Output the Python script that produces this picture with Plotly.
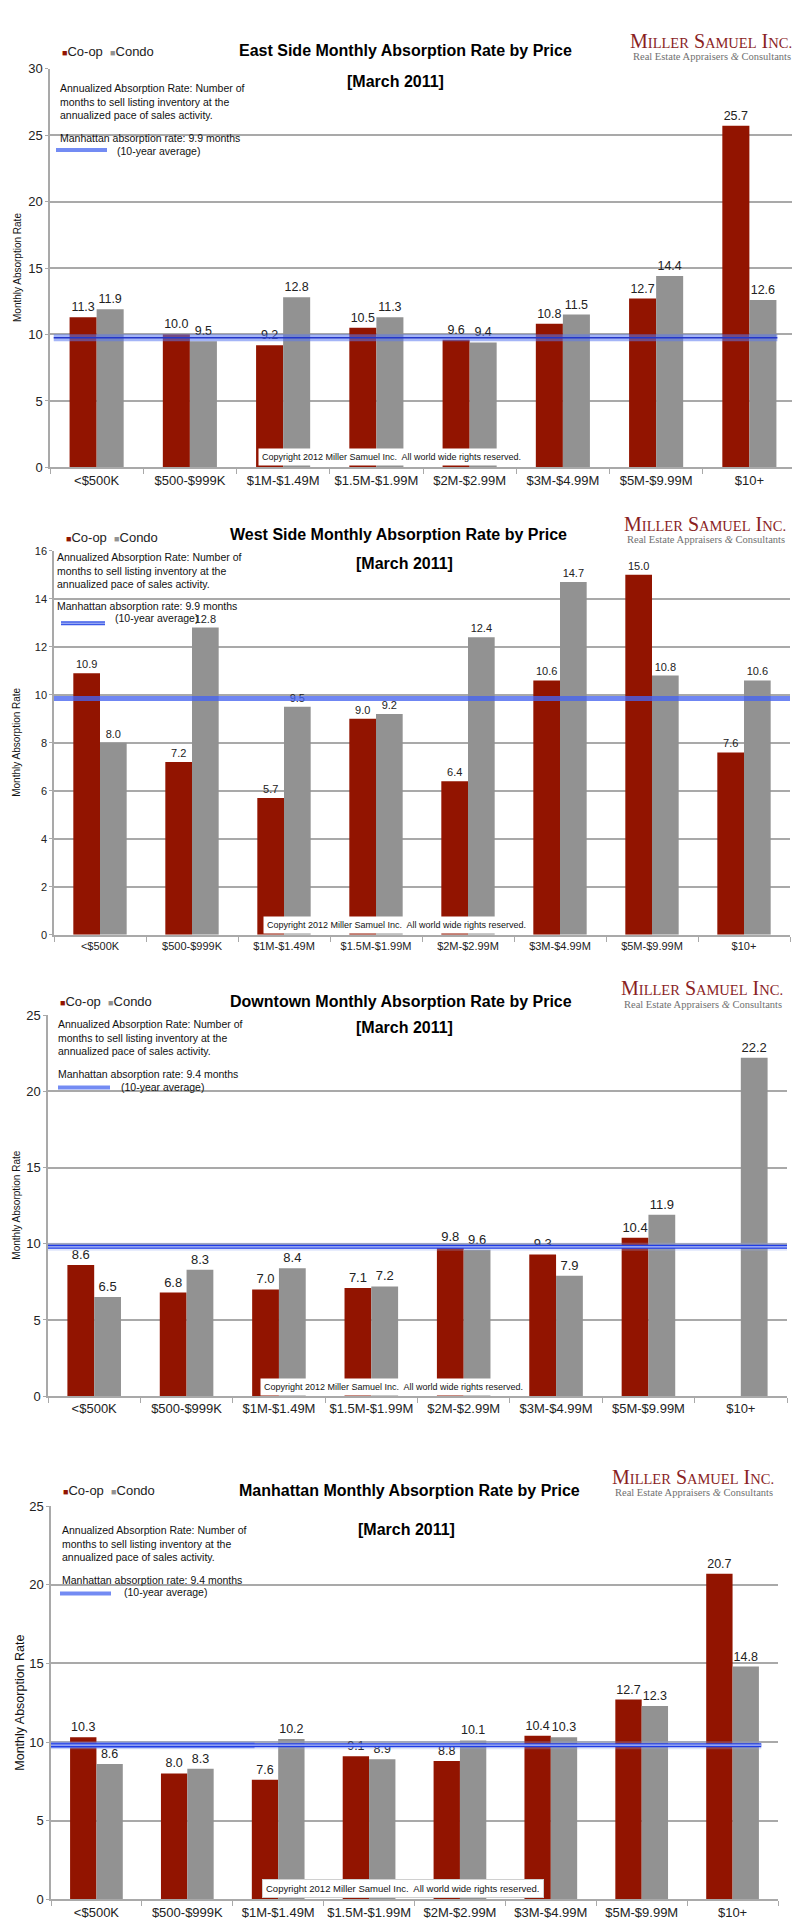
import plotly.graph_objects as go

# ---------------- data ----------------
categories = ["<$500K", "$500-$999K", "$1M-$1.49M", "$1.5M-$1.99M",
              "$2M-$2.99M", "$3M-$4.99M", "$5M-$9.99M", "$10+"]

east_coop = [11.3, 10.0, 9.2, 10.5, 9.6, 10.8, 12.7, 25.7]
east_condo = [11.9, 9.5, 12.8, 11.3, 9.4, 11.5, 14.4, 12.6]

west_coop = [10.9, 7.2, 5.7, 9.0, 6.4, 10.6, 15.0, 7.6]
west_condo = [8.0, 12.8, 9.5, 9.2, 12.4, 14.7, 10.8, 10.6]

downtown_coop = [8.6, 6.8, 7.0, 7.1, 9.8, 9.3, 10.4, None]
downtown_condo = [6.5, 8.3, 8.4, 7.2, 9.6, 7.9, 11.9, 22.2]

manhattan_coop = [10.3, 8.0, 7.6, 9.1, 8.8, 10.4, 12.7, 20.7]
manhattan_condo = [8.6, 8.3, 10.2, 8.9, 10.1, 10.3, 12.3, 14.8]

chart_titles = ["East Side Monthly Absorption Rate by Price",
                "West Side Monthly Absorption Rate by Price",
                "Downtown Monthly Absorption Rate by Price",
                "Manhattan Monthly Absorption Rate by Price"]
manhattan_rate_text = ["9.9", "9.9", "9.4", "9.4"]
avg_line_values = [9.75, 9.85, 9.8, 9.8]
y_max = [30, 16, 25, 25]
y_dtick = [5, 2, 5, 5]

series = [(east_coop, east_condo), (west_coop, west_condo),
          (downtown_coop, downtown_condo), (manhattan_coop, manhattan_condo)]

# ---------------- styling ----------------
W, H = 800, 1924
COOP = "#921400"
CONDO = "#929292"
GRID = "#a9a9a9"
FONT = "Liberation Sans, Arial, Helvetica, sans-serif"
SERIF = "Liberation Serif, Times New Roman, serif"


def px(x):
    return x / W


def py(y):
    return 1 - y / H


panels = [
    dict(L=42, R=788, top=54, bot=456, tick=13, lab=12.5, ytitle=10, ytx=9,
         legend=37, title=36, tx=397, logo=26, sub=42, march=67, mx=387,
         ann=(50, 66), manh=124, ten=(107, 137), mark=(48, 99, 136),
         copy=(383, 445, 9), line="band1"),
    dict(L=46, R=782, top=540, bot=927, tick=11, lab=11, ytitle=10, ytx=9,
         legend=527, title=524, tx=390, logo=513, sub=529, march=553, mx=396,
         ann=(47, 538), manh=596, ten=(105, 608), mark=(53, 97, 613),
         copy=(388, 917, 9), line="band2"),
    dict(L=40, R=779, top=1008, bot=1392, tick=13, lab=13, ytitle=10, ytx=9,
         legend=994, title=994, tx=393, logo=981, sub=997, march=1020, mx=396,
         ann=(48, 1009), manh=1067, ten=(111, 1080), mark=(50, 102, 1081),
         copy=(385, 1383, 9), line="double"),
    dict(L=43, R=770, top=1503, bot=1899, tick=13, lab=12.5, ytitle=12.5, ytx=12,
         legend=1487, title=1487, tx=402, logo=1473, sub=1489, march=1526, mx=398,
         ann=(52, 1519), manh=1577, ten=(114, 1589), mark=(52, 103, 1591),
         copy=(395, 1888, 9.5), line="double4"),
]

fig = go.Figure()
annotations = []
shapes = []
layout_axes = {}

for i, ((coop, condo), p) in enumerate(zip(series, panels)):
    sfx = "" if i == 0 else str(i + 1)
    xa, ya = "x" + sfx, "y" + sfx
    for vals, col in ((coop, COOP), (condo, CONDO)):
        fig.add_trace(go.Bar(
            x=categories, y=vals, xaxis=xa, yaxis=ya,
            marker=dict(color=col, line=dict(width=0)),
            text=["" if v is None else f"{v:.1f}" for v in vals],
            textposition="outside", constraintext="none", cliponaxis=False,
            textfont=dict(family=FONT, size=p["lab"], color="#222222"),
            showlegend=False, hoverinfo="x+y"))

    layout_axes["xaxis" + sfx] = dict(
        domain=[px(p["L"]), px(p["R"])], anchor=ya, type="category",
        showline=True, linecolor=GRID, linewidth=1.5, tickangle=0,
        ticks="outside", tickson="boundaries", ticklen=5, tickcolor=GRID,
        tickwidth=1.2, showgrid=False,
        tickfont=dict(family=FONT, size=p["tick"], color="#222222"))
    layout_axes["yaxis" + sfx] = dict(
        domain=[py(p["bot"]), py(p["top"])], anchor=xa,
        range=[0, y_max[i]], tick0=0, dtick=y_dtick[i],
        showgrid=True, gridcolor=GRID, gridwidth=1.5, zeroline=False,
        showline=True, linecolor=GRID, linewidth=1.5,
        ticks="outside", ticklen=3, tickcolor=GRID,
        tickfont=dict(family=FONT, size=p["tick"], color="#222222"))

    # average line
    v = avg_line_values[i]
    dref = xa + " domain"
    if p["line"] == "band1":
        shapes.append(dict(type="line", xref=dref, yref=ya, x0=0.005, x1=0.975, y0=v, y1=v,
                           line=dict(color="rgba(90,120,240,0.55)", width=7), layer="above"))
        shapes.append(dict(type="line", xref=dref, yref=ya, x0=0.005, x1=0.975, y0=v, y1=v,
                           line=dict(color="#2436c8", width=1.5), layer="above"))
    elif p["line"] == "band2":
        shapes.append(dict(type="line", xref=dref, yref=ya, x0=0, x1=1, y0=v, y1=v,
                           line=dict(color="rgba(70,100,240,0.78)", width=5), layer="above"))
    else:
        x1 = 1.0 if p["line"] == "double" else 0.977
        if p["line"] == "double4":
            shapes.append(dict(type="line", xref=dref, yref=ya, x0=0, x1=0.28, y0=v, y1=v,
                               line=dict(color="rgba(80,110,240,0.75)", width=6), layer="above"))
        shapes.append(dict(type="line", xref=dref, yref=ya, x0=0, x1=x1, y0=v, y1=v,
                           line=dict(color="rgba(150,170,240,0.3)", width=8), layer="above"))
        shapes.append(dict(type="line", xref=dref, yref=ya, x0=0, x1=x1, y0=v, y1=v,
                           line=dict(color="#1f3ce6", width=4), layer="above"))
        shapes.append(dict(type="line", xref=dref, yref=ya, x0=0, x1=x1, y0=v, y1=v,
                           line=dict(color="#b9c4f5", width=1.3), layer="above"))

    # legend marker for the average line (decorative key)
    mx0, mx1, my = p["mark"]
    if p["line"] == "band2":
        shapes.append(dict(type="line", xref="paper", yref="paper", x0=px(mx0), x1=px(mx1),
                           y0=py(my), y1=py(my), line=dict(color="#3c5ae8", width=4)))
        shapes.append(dict(type="line", xref="paper", yref="paper", x0=px(mx0), x1=px(mx1),
                           y0=py(my), y1=py(my), line=dict(color="#b9c4f5", width=1)))
    else:
        shapes.append(dict(type="line", xref="paper", yref="paper", x0=px(mx0), x1=px(mx1),
                           y0=py(my), y1=py(my), line=dict(color="rgba(80,110,240,0.8)", width=4)))

    # texts
    annotations.append(dict(
        xref="paper", yref="paper", x=px(p["L"] + 10), y=py(p["legend"]),
        xanchor="left", yanchor="middle", showarrow=False,
        text=("<span style='color:%s;font-size:9px'>■</span>Co-op  "
              "<span style='color:%s;font-size:9px'>■</span>Condo") % (COOP, CONDO),
        font=dict(family=FONT, size=13, color="#222222")))
    annotations.append(dict(
        xref="paper", yref="paper", x=px(p["tx"]), y=py(p["title"]),
        xanchor="center", yanchor="middle", showarrow=False,
        text="<b>%s</b>" % chart_titles[i],
        font=dict(family=FONT, size=16, color="#000000")))
    annotations.append(dict(
        xref="paper", yref="paper", x=px(p["mx"]), y=py(p["march"]),
        xanchor="center", yanchor="middle", showarrow=False,
        text="<b>[March 2011]</b>",
        font=dict(family=FONT, size=16, color="#000000")))
    annotations.append(dict(
        xref="paper", yref="paper", x=px(p["R"] - 2), y=py(p["logo"]),
        xanchor="right", yanchor="middle", showarrow=False,
        text=("M<span style='font-size:14.5px'>ILLER</span> "
              "S<span style='font-size:14.5px'>AMUEL</span> "
              "I<span style='font-size:14.5px'>NC.</span>"),
        font=dict(family=SERIF, size=20, color="#8a1f1f")))
    annotations.append(dict(
        xref="paper", yref="paper", x=px(p["R"] - 3), y=py(p["sub"]),
        xanchor="right", yanchor="middle", showarrow=False,
        text="Real Estate Appraisers <i>&amp;</i> Consultants",
        font=dict(family=SERIF, size=10.5, color="#707070")))
    ax_, ay_ = p["ann"]
    annotations.append(dict(
        xref="paper", yref="paper", x=px(ax_), y=py(ay_),
        xanchor="left", yanchor="top", align="left", showarrow=False,
        text=("Annualized Absorption Rate: Number of<br>"
              "months to sell listing inventory at the<br>"
              "annualized pace of sales activity."),
        font=dict(family=FONT, size=10.5, color="#111111")))
    annotations.append(dict(
        xref="paper", yref="paper", x=px(ax_), y=py(p["manh"]),
        xanchor="left", yanchor="middle", showarrow=False,
        text="Manhattan absorption rate: %s months" % manhattan_rate_text[i],
        font=dict(family=FONT, size=10.5, color="#111111")))
    annotations.append(dict(
        xref="paper", yref="paper", x=px(p["ten"][0]), y=py(p["ten"][1]),
        xanchor="left", yanchor="middle", showarrow=False,
        text="(10-year average)",
        font=dict(family=FONT, size=10.5, color="#111111")))
    cx, cy, cfs = p["copy"]
    annotations.append(dict(
        xref="paper", yref="paper", x=px(cx), y=py(cy),
        xanchor="center", yanchor="middle", showarrow=False,
        text="Copyright 2012 Miller Samuel Inc.  All world wide rights reserved.",
        bgcolor="#ffffff", borderpad=3,
        bordercolor="#d0d0d0" if i == 3 else "rgba(0,0,0,0)", borderwidth=1,
        font=dict(family=FONT, size=cfs, color="#111111")))
    annotations.append(dict(
        xref="paper", yref="paper", x=px(p["ytx"]), y=py((p["top"] + p["bot"]) / 2),
        xanchor="center", yanchor="middle", showarrow=False, textangle=-90,
        text="Monthly Absorption Rate",
        font=dict(family=FONT, size=p["ytitle"], color="#111111")))

fig.update_layout(
    width=W, height=H,
    margin=dict(l=0, r=0, t=0, b=0),
    paper_bgcolor="white", plot_bgcolor="white",
    barmode="group", bargap=0.42, bargroupgap=0,
    showlegend=False,
    annotations=annotations, shapes=shapes,
    font=dict(family=FONT),
    **layout_axes)

fig.write_html("out.html")
